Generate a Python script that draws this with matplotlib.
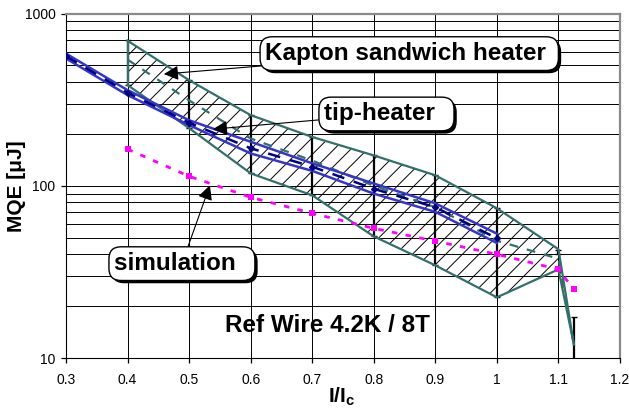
import matplotlib
matplotlib.use('Agg')
import matplotlib.pyplot as plt
import matplotlib.patheffects as pe
from matplotlib.ticker import LogLocator, NullFormatter, FixedLocator
import numpy as np

plt.rcParams['font.family'] = ['Liberation Sans', 'DejaVu Sans']
plt.rcParams['mathtext.fontset'] = 'custom'
plt.rcParams['mathtext.bf'] = 'Liberation Sans:bold'
plt.rcParams['mathtext.rm'] = 'Liberation Sans'
plt.rcParams['hatch.linewidth'] = 0.7

# tip-heater (blue band + navy mean)
tip_x = [0.3, 0.4, 0.5, 0.6, 0.7, 0.8, 0.9, 1.0]
tip_hi = [585, 359, 240, 180, 135, 103, 79, 52.7]
tip_lo = [548, 336, 225, 154, 122, 90, 70.5, 46.5]
tip_mid = [565, 347, 232, 165, 129, 96, 75, 49.5]

# Kapton sandwich heater (hatched band)
kap_x = [0.4, 0.5, 0.6, 0.7, 0.8, 0.9, 1.0, 1.1, 1.125]
kap_hi = [695, 410, 257, 192, 150, 115, 74, 42.8, 12]
kap_lo = [384, 216, 118, 88, 50.8, 34.5, 22.5, 32.7, 12]
kap_mid = [540, 313, 188, 140, 100, 75, 48, 37.7, 12]
err_hi = [700, 410, 257, 192, 150, 115, 74, 42.5, 17.4]
err_lo = [384, 216, 118, 88, 50.8, 34.5, 22.5, 40, 8]

# simulation
sim_x = [0.4, 0.5, 0.6, 0.7, 0.8, 0.9, 1.0, 1.1, 1.125]
sim_y = [163, 113.5, 85.7, 69.2, 56.6, 47.7, 40, 32.7, 25]

xticks = [0.3, 0.4, 0.5, 0.6, 0.7, 0.8, 0.9, 1.0, 1.1, 1.2]
xticklabels = ['0.3', '0.4', '0.5', '0.6', '0.7', '0.8', '0.9', '1', '1.1', '1.2']

teal = '#33706b'
blue = '#3535c8'
navy = '#000080'
pink = '#ff00ff'

fig = plt.figure(figsize=(6.29, 4.08), dpi=100)
ax = fig.add_axes([66/629, 1-358/408, 554/629, 344.5/408])
ax.set_yscale('log')
ax.set_xlim(0.3, 1.2)
ax.set_ylim(10, 1000)

ax.set_xticks(xticks)
ax.set_xticklabels(xticklabels)
ax.yaxis.set_major_locator(FixedLocator([10, 100, 1000]))
ax.set_yticklabels(['10', '100', '1000'])
ax.yaxis.set_minor_locator(LogLocator(base=10, subs=np.arange(2, 10)))
ax.yaxis.set_minor_formatter(NullFormatter())
ax.tick_params(axis='both', which='major', direction='out', length=3.5, width=0.9, labelsize=10)
ax.tick_params(axis='x', pad=7)
ax.tick_params(axis='y', pad=4)
ax.tick_params(axis='y', which='minor', length=0)
ax.grid(True, which='both', axis='y', color='black', lw=0.7, zorder=0)
ax.grid(True, which='major', axis='x', color='black', lw=0.7, zorder=0)
ax.set_axisbelow(True)
for s in ['top', 'right']:
    ax.spines[s].set_color('#8a8a8a')
    ax.spines[s].set_linewidth(1.6)

# hatched Kapton band
px = kap_x + kap_x[::-1]
py = kap_hi + kap_lo[::-1]
ax.fill(px, py, facecolor='none', edgecolor='black', hatch='//', lw=0, zorder=2)
ax.plot(kap_x, kap_hi, color=teal, lw=1.6, zorder=4)
ax.plot(kap_x, kap_lo, color=teal, lw=1.6, zorder=4)
ax.plot([kap_x[0], kap_x[0]], [kap_lo[0], kap_hi[0]], color=teal, lw=1.6, zorder=4)
ax.plot(kap_x, kap_mid, color=teal, lw=1.6, dashes=(4, 4), zorder=4)
mid = np.sqrt(np.array(err_hi) * np.array(err_lo))
ax.errorbar(kap_x, mid, yerr=[mid - np.array(err_lo), np.array(err_hi) - mid],
            fmt='none', ecolor='black', elinewidth=1.6, capsize=2, capthick=1, zorder=3)

# tip-heater
ax.plot(tip_x, tip_hi, color=blue, lw=1.8, zorder=5)
ax.plot(tip_x, tip_lo, color=blue, lw=1.8, zorder=5)
ax.plot(tip_x, tip_mid, color=navy, lw=1.8, dashes=(5, 4), marker='D', ms=3, zorder=5)

# simulation
ax.plot(sim_x, sim_y, color=pink, lw=2, dashes=(2, 3), marker='s', ms=5,
        markeredgewidth=0, zorder=6)

def label_box(text, xy, xytext):
    a = ax.annotate(text, xy=xy, xytext=xytext, textcoords='data',
                    fontsize=17.5, fontweight='bold', ha='center', va='center',
                    bbox=dict(boxstyle='round,pad=0.22,rounding_size=0.5',
                              fc='white', ec='black', lw=1),
                    arrowprops=dict(arrowstyle='-|>', color='black', lw=0.8,
                                    mutation_scale=22, shrinkA=0, shrinkB=0),
                    zorder=10)
    a.get_bbox_patch().set_path_effects(
        [pe.SimplePatchShadow(offset=(2, -2), shadow_rgbFace='black', alpha=1),
         pe.Normal()])

label_box('Kapton sandwich heater ', (0.459, 445), (0.8576, 585))
label_box('tip-heater  ', (0.5386, 213), (0.8206, 261))
label_box('simulation  ', (0.5338, 100.7), (0.4883, 35.3))

ax.text(0.7245, 15.35, 'Ref Wire 4.2K / 8T', fontsize=17.5, fontweight='bold',
        ha='center', va='center', zorder=10)

ax.set_ylabel('MQE [μJ]', fontsize=15, fontweight='bold')
ax.yaxis.set_label_coords(-0.072, 0.5)
ax.set_xlabel(r'$\mathbf{I/I_c}$', fontsize=15)
ax.xaxis.set_label_coords(0.498, -0.081)

fig.savefig('out.png', dpi=100)
